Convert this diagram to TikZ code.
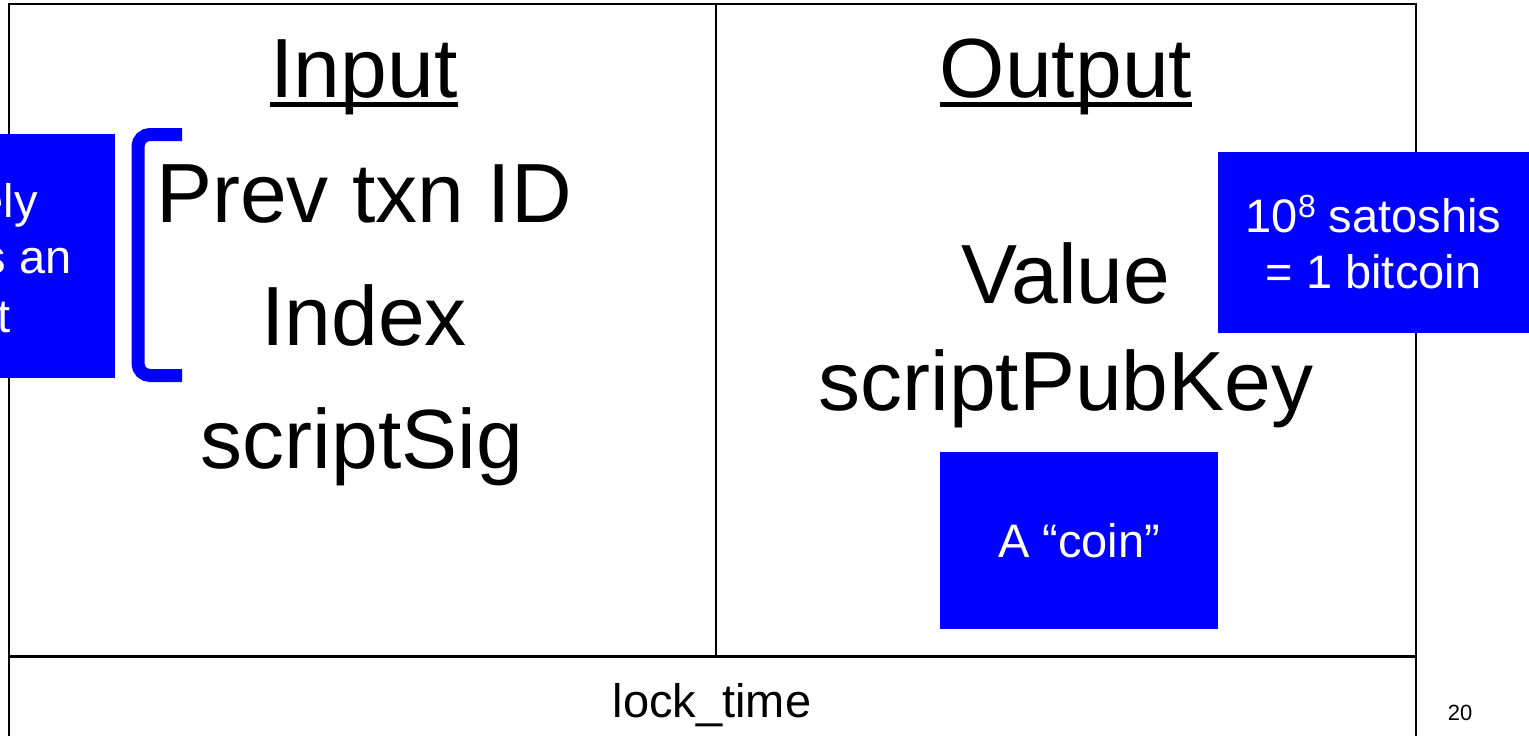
\documentclass[tikz,border=0pt]{standalone}
\usepackage{fontspec}
\setmainfont{Liberation Sans}
\begin{document}
\begin{tikzpicture}[x=1pt,y=-1pt,
  field/.style={anchor=base,inner sep=0pt,font=\fontsize{84}{100}\selectfont},
  note/.style={fill=blue,text=white,inner sep=0pt,align=center,font=\fontsize{47}{56}\selectfont},
  notetxt/.style={anchor=base east,inner sep=0pt,text=white,font=\fontsize{47}{56}\selectfont},
  boxline/.style={line width=2pt}]
  \useasboundingbox (0,0) rectangle (1529,736);
  \clip (0,0) rectangle (1529,736);

  % transaction frame
  \draw[boxline] (9,656) -- (9,4) -- (1416,4) -- (1416,656);
  \draw[boxline] (716,4) -- (716,656);
  \draw[line width=3pt] (9,656) -- (1416,656);
  \draw[boxline] (9,656) -- (9,740);
  \draw[boxline] (1416,656) -- (1416,740);

  % headers
  \node[field] (inp) at (364,97) {Input};
  \node[field] (outp) at (1066,97) {Output};
  \draw[line width=5pt] ([yshift=-7pt]inp.base west) -- ([yshift=-7pt]inp.base east);
  \draw[line width=5pt] ([yshift=-7pt]outp.base west) -- ([yshift=-7pt]outp.base east);

  % input fields
  \node[field] (prev) at (364,222) {Prev txn ID};
  \node[field] (idx) at (364,345) {Index};
  \node[field] (sig) at (362,468) {scriptSig};

  % output fields
  \node[field] (val) at (1066,303) {Value};
  \node[field] (spk) at (1066,410) {scriptPubKey};

  % bracket
  \draw[blue,line width=13pt,rounded corners=12pt]
    (182,134.5) -- (138,134.5) -- (138,375.5) -- (182,375.5);

  % notes
  \node[note,minimum width=135pt,minimum height=244pt] (uniq) at (47.5,256) {};
  \node[notetxt] at (38,217) {ely};
  \node[notetxt] at (72,273) {s an};
  \node[notetxt] at (11,332) {t};

  \node[note,minimum width=311pt,minimum height=181pt] (sat) at (1373.5,242.5)
    {10\raisebox{15pt}{\fontsize{32}{32}\selectfont 8} satoshis\\= 1 bitcoin};
  \node[note,minimum width=278pt,minimum height=177pt] (coin) at (1079,540.5) {A “coin”};

  % lock time
  \node[anchor=base,inner sep=0pt,font=\fontsize{47}{56}\selectfont] (lock) at (712,717) {lock\_time};
  \node[inner sep=0pt,font=\fontsize{22}{26}\selectfont] (pgno) at (1460,713) {20};
\end{tikzpicture}
\end{document}
